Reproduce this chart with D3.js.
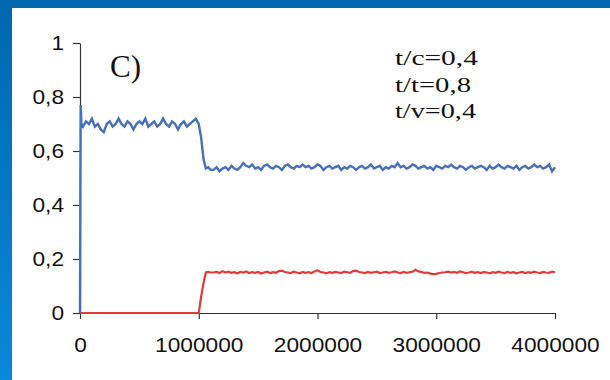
<!DOCTYPE html>
<html>
<head>
<meta charset="utf-8">
<script src="https://d3js.org/d3.v7.min.js"></script>
<style>
  body { margin: 0; }
  svg { display: block; }
</style>
</head>
<body>
<div class="chart"></div>
<script>
// time steps (in thousands of steps)
var timeK = [0, 3, 6, 12,
  25, 50, 75, 100, 125, 150, 175, 200, 225, 250, 275, 300, 325, 350, 375, 400, 425, 450, 475, 500,
  525, 550, 575, 600, 625, 650, 675, 700, 725, 750, 775, 800, 825, 850, 875, 900, 925, 950, 975, 1000,
  1020, 1040, 1060, 1080, 1100,
  1125, 1150, 1175, 1200, 1225, 1250, 1275, 1300, 1325, 1350,
  1375, 1400, 1425, 1450, 1475, 1500, 1525, 1550, 1575, 1600,
  1625, 1650, 1675, 1700, 1725, 1750, 1775, 1800, 1825, 1850,
  1875, 1900, 1925, 1950, 1975, 2000, 2025, 2050, 2075, 2100,
  2125, 2150, 2175, 2200, 2225, 2250, 2275, 2300, 2325, 2350,
  2375, 2400, 2425, 2450, 2475, 2500, 2525, 2550, 2575, 2600,
  2625, 2650, 2675, 2700, 2725, 2750, 2775, 2800, 2825, 2850,
  2875, 2900, 2925, 2950, 2975, 3000, 3025, 3050, 3075, 3100,
  3125, 3150, 3175, 3200, 3225, 3250, 3275, 3300, 3325, 3350,
  3375, 3400, 3425, 3450, 3475, 3500, 3525, 3550, 3575, 3600,
  3625, 3650, 3675, 3700, 3725, 3750, 3775, 3800, 3825, 3850,
  3875, 3900, 3925, 3950, 3975, 4000];

// blue series
var blueValues = [0, 0.45, 0.77, 0.70,
  0.69, 0.71, 0.70, 0.72, 0.69, 0.70, 0.68, 0.67, 0.70, 0.71,
  0.69, 0.70, 0.72, 0.70, 0.69, 0.71, 0.70, 0.68, 0.70, 0.71,
  0.70, 0.72, 0.69, 0.70, 0.71, 0.69, 0.70, 0.72, 0.70, 0.69,
  0.71, 0.70, 0.68, 0.70, 0.71, 0.69, 0.70, 0.71, 0.72, 0.70,
  0.65, 0.57, 0.535, 0.54, 0.53,
  0.53, 0.54, 0.525, 0.535, 0.54, 0.53, 0.545, 0.535, 0.53, 0.54,
  0.555, 0.545, 0.54, 0.55, 0.535, 0.54, 0.53, 0.545, 0.55, 0.54,
  0.535, 0.545, 0.54, 0.53, 0.545, 0.55, 0.54, 0.535, 0.545, 0.54,
  0.55, 0.54, 0.545, 0.535, 0.54, 0.55, 0.545, 0.53, 0.54, 0.545,
  0.535, 0.54, 0.545, 0.53, 0.54, 0.535, 0.545, 0.54, 0.53, 0.54,
  0.545, 0.535, 0.54, 0.55, 0.535, 0.54, 0.545, 0.53, 0.54, 0.535,
  0.545, 0.54, 0.555, 0.54, 0.545, 0.535, 0.54, 0.55, 0.545, 0.535,
  0.54, 0.545, 0.535, 0.54, 0.53, 0.545, 0.54, 0.535, 0.545, 0.54,
  0.55, 0.54, 0.535, 0.545, 0.54, 0.53, 0.54, 0.545, 0.535, 0.54,
  0.545, 0.54, 0.53, 0.545, 0.535, 0.54, 0.55, 0.54, 0.535, 0.545,
  0.54, 0.535, 0.545, 0.53, 0.54, 0.545, 0.535, 0.54, 0.55, 0.54,
  0.545, 0.535, 0.54, 0.55, 0.525, 0.54];

// red series
var redValues = [0, 0, 0, 0,
  0, 0, 0, 0, 0, 0, 0, 0, 0, 0,
  0, 0, 0, 0, 0, 0, 0, 0, 0, 0,
  0, 0, 0, 0, 0, 0, 0, 0, 0, 0,
  0, 0, 0, 0, 0, 0, 0, 0, 0, 0,
  0.06, 0.11, 0.15, 0.152, 0.15,
  0.15, 0.152, 0.148, 0.155, 0.15, 0.153, 0.149, 0.151, 0.147, 0.152,
  0.15, 0.154, 0.148, 0.151, 0.149, 0.152, 0.146, 0.15, 0.153, 0.148,
  0.151, 0.149, 0.155, 0.157, 0.152, 0.15, 0.148, 0.153, 0.15, 0.147,
  0.152, 0.149, 0.151, 0.148, 0.154, 0.158, 0.152, 0.15, 0.147, 0.151,
  0.149, 0.152, 0.15, 0.148, 0.153, 0.151, 0.149, 0.155, 0.157, 0.152,
  0.15, 0.148, 0.152, 0.149, 0.151, 0.153, 0.148, 0.15, 0.152, 0.149,
  0.151, 0.154, 0.15, 0.148, 0.152, 0.149, 0.151, 0.153, 0.16, 0.154,
  0.152, 0.149, 0.15, 0.146, 0.144, 0.145, 0.148, 0.15, 0.151, 0.153,
  0.15, 0.152, 0.149, 0.154, 0.151, 0.148, 0.15, 0.153, 0.149, 0.151,
  0.148, 0.152, 0.15, 0.147, 0.151, 0.149, 0.153, 0.15, 0.148, 0.152,
  0.149, 0.151, 0.147, 0.15, 0.152, 0.148, 0.151, 0.149, 0.153, 0.15,
  0.148, 0.152, 0.15, 0.149, 0.153, 0.151];

// tick labels
var xTicks = [0, 1000000, 2000000, 3000000, 4000000];
var yTicks = [0, 0.2, 0.4, 0.6, 0.8, 1];
var yTickLabels = ["0", "0,2", "0,4", "0,6", "0,8", "1"];
var notes = ["t/c=0,4", "t/t=0,8", "t/v=0,4"];
var panelLabel = "C)";

var svgWidth = 610;
var svgHeight = 380;

var svg = d3.select(".chart").append("svg")
    .attr("width", svgWidth)
    .attr("height", svgHeight);

// blue slide frame
var grad = svg.append("defs").append("linearGradient")
    .attr("id", "frame")
    .attr("x1", 0).attr("y1", 0).attr("x2", 0).attr("y2", 1);
grad.append("stop").attr("offset", "0%").attr("stop-color", "#0067ae");
grad.append("stop").attr("offset", "100%").attr("stop-color", "#0a88da");

svg.append("rect")
    .attr("width", svgWidth)
    .attr("height", svgHeight)
    .attr("fill", "url(#frame)");

svg.append("rect")
    .attr("x", 12)
    .attr("y", 8)
    .attr("width", svgWidth - 12)
    .attr("height", svgHeight - 8)
    .attr("fill", "#ffffff");

// scales
var xScale = d3.scaleLinear().domain([0, 4000000]).range([80, 555]);
var yScale = d3.scaleLinear().domain([0, 1]).range([313, 43]);

var series = timeK.map((t, i) => ({ t: t * 1000, blue: blueValues[i], red: redValues[i] }));

// axes
var bottomAxis = d3.axisBottom(xScale)
    .tickValues(xTicks)
    .tickFormat(d3.format("d"))
    .tickSizeInner(6)
    .tickSizeOuter(0)
    .tickPadding(18);

var leftAxis = d3.axisLeft(yScale)
    .tickValues(yTicks)
    .tickFormat((d, i) => yTickLabels[i])
    .tickSizeInner(7)
    .tickSizeOuter(0)
    .tickPadding(9);

var xAxis = svg.append("g")
    .attr("transform", `translate(0, ${yScale(0)})`)
    .call(bottomAxis);

var yAxis = svg.append("g")
    .attr("transform", `translate(${xScale(0)}, 0)`)
    .call(leftAxis);

// Arial-like labels, a little wider than normal as in the slide
[xAxis, yAxis].forEach(ax => {
    ax.selectAll("path, line").attr("stroke", "#333333").attr("stroke-width", 1.2);
    ax.selectAll("text")
        .attr("fill", "#111111")
        .style("font-family", "'Liberation Sans', Arial, sans-serif")
        .style("font-size", "21px")
        .each(function() {
            var w = this.getComputedTextLength();
            d3.select(this)
                .attr("textLength", w * 1.08)
                .attr("lengthAdjust", "spacingAndGlyphs");
        });
});

// lines
var redLine = d3.line().x(d => xScale(d.t)).y(d => yScale(d.red));
var blueLine = d3.line().x(d => xScale(d.t)).y(d => yScale(d.blue));

svg.append("path")
    .datum(series)
    .attr("fill", "none")
    .attr("stroke", "#e03a3a")
    .attr("stroke-width", 2.2)
    .attr("d", redLine);

svg.append("path")
    .datum(series)
    .attr("fill", "none")
    .attr("stroke", "#4770b8")
    .attr("stroke-width", 2.4)
    .attr("d", blueLine);

// panel label
svg.append("text")
    .attr("x", 110)
    .attr("y", 77)
    .style("font-family", "'Liberation Serif', 'Times New Roman', serif")
    .style("font-size", "31px")
    .attr("fill", "#111111")
    .text(panelLabel);

// parameter notes
var noteWidths = [83, 76, 81];
svg.append("g")
    .selectAll("text")
    .data(notes)
    .enter()
    .append("text")
    .attr("x", 395)
    .attr("y", (d, i) => 65 + i * 26.5)
    .attr("textLength", (d, i) => noteWidths[i])
    .attr("lengthAdjust", "spacingAndGlyphs")
    .style("font-family", "'Liberation Serif', 'Times New Roman', serif")
    .style("font-size", "22px")
    .attr("fill", "#111111")
    .text(d => d);
</script>
</body>
</html>
